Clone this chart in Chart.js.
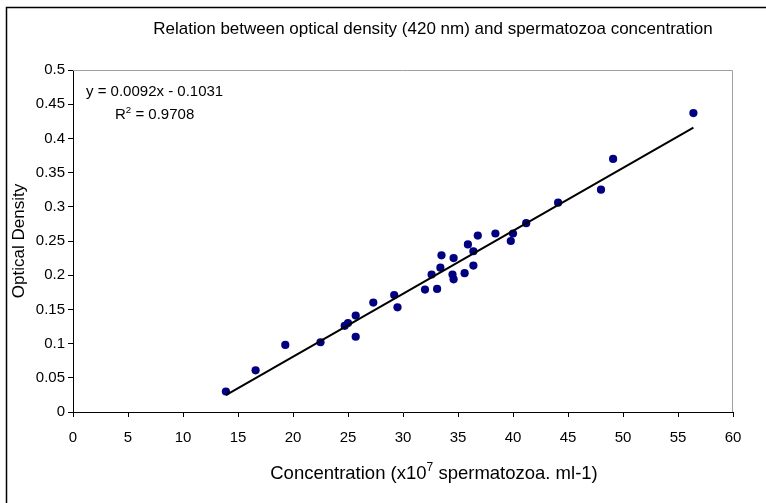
<!DOCTYPE html>
<html>
<head>
<meta charset="utf-8">
<script src="https://cdn.jsdelivr.net/npm/chart.js@4.4.1/dist/chart.umd.min.js"></script>
<style>
  body { margin: 0; background: #fff; }
  canvas { display: block; }
</style>
</head>
<body>
<canvas id="myChart" width="766" height="503"></canvas>
<script>
// concentration (x10^7 spermatozoa / ml) and optical density
var concentration = [13.9, 16.6, 19.3, 22.5, 24.7, 25.0, 25.7, 25.7, 27.3, 29.2, 29.5,
  32.0, 32.6, 33.1, 33.4, 33.5, 34.5, 34.6, 34.6, 35.6, 35.9, 36.4, 36.4, 36.8,
  38.4, 39.8, 40.0, 41.2, 44.1, 48.0, 49.1, 56.4];
var opticalDensity = [0.030, 0.061, 0.098, 0.102, 0.126, 0.130, 0.141, 0.110, 0.160, 0.171, 0.153,
  0.179, 0.201, 0.180, 0.211, 0.229, 0.201, 0.225, 0.194, 0.203, 0.245, 0.235, 0.214, 0.258,
  0.261, 0.250, 0.261, 0.276, 0.306, 0.325, 0.370, 0.437];

var xTicks = [0, 5, 10, 15, 20, 25, 30, 35, 40, 45, 50, 55, 60];
var yTicks = [0, 0.05, 0.1, 0.15, 0.2, 0.25, 0.3, 0.35, 0.4, 0.45, 0.5];
var yTickLabels = ['0', '0.05', '0.1', '0.15', '0.2', '0.25', '0.3', '0.35', '0.4', '0.45', '0.5'];

// linear trend line as printed on the chart
var trendSlope = 0.0092;
var trendIntercept = -0.1031;

var points = concentration.map((x, i) => ({x: x, y: opticalDensity[i]}));
var xMin = Math.min.apply(null, concentration);
var xMax = Math.max.apply(null, concentration);
var trend = [
  {x: xMin, y: trendSlope * xMin + trendIntercept},
  {x: xMax, y: trendSlope * xMax + trendIntercept}
];

var FONT = '"Liberation Sans", Arial, sans-serif';

// draw pieces of text, some raised as superscript
function drawParts(ctx, parts, x, y, size, align) {
  var widths = parts.map(p => {
    ctx.font = (p.sup ? size * 0.65 : size) + 'px ' + FONT;
    return ctx.measureText(p.t).width;
  });
  var total = widths.reduce((a, b) => a + b, 0);
  var cx = align === 'center' ? x - total / 2 : x;
  ctx.textAlign = 'left';
  ctx.textBaseline = 'alphabetic';
  parts.forEach((p, i) => {
    ctx.font = (p.sup ? size * 0.65 : size) + 'px ' + FONT;
    ctx.fillText(p.t, cx, p.sup ? y - size * 0.42 : y);
    cx += widths[i];
  });
}

var decor = {
  id: 'decor',
  beforeDraw(chart) {
    var ctx = chart.ctx;
    ctx.save();
    ctx.fillStyle = '#fff';
    ctx.fillRect(0, 0, chart.width, chart.height);
    ctx.restore();
  },
  afterDraw(chart) {
    var ctx = chart.ctx;
    var a = chart.chartArea;
    ctx.save();
    // outer frame (only left and top visible)
    ctx.strokeStyle = '#000';
    ctx.lineWidth = 1.5;
    ctx.beginPath();
    ctx.moveTo(6.5, chart.height + 2);
    ctx.lineTo(6.5, 7.5);
    ctx.lineTo(chart.width + 2, 7.5);
    ctx.stroke();
    // plot area top/right border
    ctx.strokeStyle = '#a0a0a0';
    ctx.lineWidth = 1;
    ctx.beginPath();
    ctx.moveTo(a.left, a.top + 0.5);
    ctx.lineTo(a.right - 0.5, a.top + 0.5);
    ctx.lineTo(a.right - 0.5, a.bottom);
    ctx.stroke();

    ctx.fillStyle = '#000';
    drawParts(ctx, [{t: 'Relation between optical density (420 nm) and spermatozoa concentration'}], 433, 34, 17, 'center');
    drawParts(ctx, [{t: 'Concentration (x10'}, {t: '7', sup: true}, {t: ' spermatozoa. ml-1)'}], 434, 479, 18.5, 'center');
    drawParts(ctx, [{t: 'y = 0.0092x - 0.1031'}], 86, 96, 15, 'left');
    drawParts(ctx, [{t: 'R'}, {t: '2', sup: true}, {t: ' = 0.9708'}], 115, 119, 15, 'left');

    ctx.translate(24, (a.top + a.bottom) / 2);
    ctx.rotate(-Math.PI / 2);
    drawParts(ctx, [{t: 'Optical Density'}], 0, 0, 17, 'center');
    ctx.restore();
  }
};

var ctx = document.getElementById('myChart').getContext('2d');
var chart = new Chart(ctx, {
  type: 'scatter',
  data: {
    datasets: [
      {
        data: trend,
        type: 'line',
        showLine: true,
        borderColor: '#000',
        borderWidth: 2,
        pointRadius: 0,
        order: 0
      },
      {
        data: points,
        backgroundColor: '#000080',
        borderColor: '#000080',
        pointRadius: 4.1,
        pointBorderWidth: 0,
        order: 1
      }
    ]
  },
  plugins: [decor],
  options: {
    responsive: false,
    animation: false,
    devicePixelRatio: 1,
    layout: { padding: { left: 0, top: 70, right: 33, bottom: 0 } },
    plugins: {
      legend: { display: false },
      tooltip: { enabled: false },
      title: { display: false }
    },
    scales: {
      x: {
        type: 'linear',
        min: 0,
        max: 60,
        afterBuildTicks: scale => { scale.ticks = xTicks.map(v => ({value: v})); },
        afterFit: scale => { scale.height = 91; },
        ticks: {
          color: '#000',
          font: { family: FONT, size: 15 },
          padding: 12,
          maxRotation: 0,
          autoSkip: false
        },
        grid: { drawOnChartArea: false, color: '#000', tickLength: 5 },
        border: { color: '#000', width: 1 }
      },
      y: {
        type: 'linear',
        min: 0,
        max: 0.5,
        afterBuildTicks: scale => { scale.ticks = yTicks.map(v => ({value: v})); },
        afterFit: scale => { scale.width = 73; },
        ticks: {
          color: '#000',
          font: { family: FONT, size: 15 },
          padding: 3,
          autoSkip: false,
          callback: (v, i) => yTickLabels[i]
        },
        grid: { drawOnChartArea: false, color: '#000', tickLength: 5 },
        border: { color: '#000', width: 1 }
      }
    }
  }
});
</script>
</body>
</html>
